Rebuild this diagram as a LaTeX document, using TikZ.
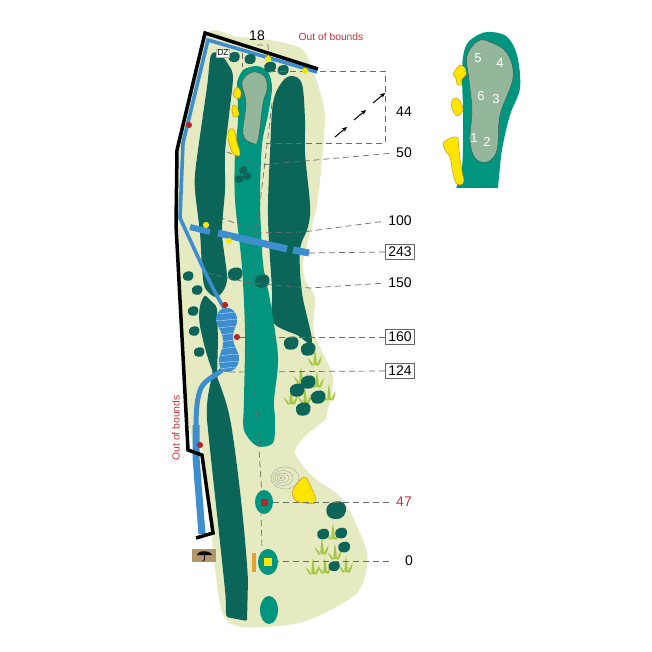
\documentclass[tikz,border=0pt]{standalone}
\usepackage{fontspec}
\setmainfont{Liberation Sans}
\usetikzlibrary{arrows.meta}
\definecolor{rough}{HTML}{E6EAC0}
\definecolor{darkg}{HTML}{0B6558}
\definecolor{teal1}{HTML}{00957F}
\definecolor{putt}{HTML}{94B79C}
\definecolor{water}{HTML}{3C8ECF}
\definecolor{sand}{HTML}{FFE600}
\definecolor{redd}{HTML}{B5252B}
\definecolor{lab}{HTML}{C8323A}
\definecolor{grassc}{HTML}{A6C646}
\definecolor{tan1}{HTML}{B3956A}
\definecolor{orng}{HTML}{E8A02C}
\tikzset{
 lead/.style={draw=black!58,dash pattern=on 6pt off 4pt,line width=.7pt},
 gap/.style={shorten <=5pt},
 num/.style={font=\fontsize{14}{14}\selectfont,inner sep=2pt},
 boxnum/.style={num,draw=black!60,line width=.7pt,fill=white,minimum width=29pt,minimum height=15pt,inner sep=1pt},
 redlab/.style={font=\fontsize{10.3}{11}\selectfont,text=lab},
 pin/.style={font=\fontsize{13}{13}\selectfont,text=white,inner sep=0},
 bnd/.style={draw=black,line width=3.5pt,line join=miter},
 bunk/.style={fill=sand,draw=black!30!orange!70!sand,line width=.4pt},
 arr/.style={-{Stealth[length=5pt,width=4.5pt]},line width=1pt,black},
}
\newcommand{\bushat}[3]{\fill[darkg,shift={(#1,#2)},scale=#3] plot[smooth cycle,tension=.7] coordinates {(-6.5,-2) (-1,-6) (5.5,-5) (7,1) (3,6) (-5,5)};}
\newcommand{\grassat}[2]{\begin{scope}[shift={(#1,#2)}]
\fill[grassc] (-1.6,7) .. controls (-1.6,1) and (-1,-4) .. (0,-9) .. controls (.5,-4) and (2,1) .. (1.8,7) -- cycle;
\fill[grassc] (-1.6,7) .. controls (-3,4) and (-5,2) .. (-7.5,0) .. controls (-6,3) and (-5,6) .. (-3,8) -- cycle;
\fill[grassc] (1.6,7) .. controls (3,4) and (4.5,1) .. (6.5,-2) .. controls (6.5,2) and (5,6) .. (3,8) -- cycle;
\end{scope}}
\newcommand{\dotat}[3]{\fill[#3] (#1,#2) circle (3.1pt);}
\newcommand{\pondpath}{plot[smooth cycle,tension=.85] coordinates {(227,308) (237,318) (233,338) (239,360) (228,372) (219,363) (223,340) (216,318)}}
\begin{document}
\begin{tikzpicture}[x=1pt,y=-1pt]
\useasboundingbox (0,0) rectangle (652,652);
\fill[white] (0,0) rectangle (652,652);
% rough
\fill[rough] plot[smooth cycle,tension=.45] coordinates {(205,36) (237,37) (270,40) (303,50) (318,85) (325,117) (321,170) (317,205) (310,233) (303,262) (305,280) (315,297) (314,333) (333,377) (327,413) (325,420) (305,436) (295,453) (313,477) (343,500) (367,553) (357,593) (303,622) (243,627) (222,612) (212,540) (204,455) (192,440) (186,400) (181,300) (178,200) (180,145)};
% dark fairways
\fill[darkg] plot[smooth cycle,tension=.5] coordinates {(211,55) (220,54) (228,64) (233,77) (229,115) (225,153) (225,190) (222,233) (227,280) (217,297) (205,288) (202,267) (200,233) (195,190) (196,165) (207,87)};
\fill[darkg] plot[smooth cycle,tension=.55] coordinates {(292,76) (302,84) (305,120) (305,153) (310,205) (308,227) (300,250) (302,293) (312,342) (297,335) (273,322) (272,290) (268,217) (270,153) (273,103) (282,82)};
\fill[darkg,rounded corners=2pt] (205,295) .. controls (198,305) and (198,320) .. (202,335) .. controls (205,350) and (210,365) .. (213,372) .. controls (210,385) and (206,400) .. (207,420) .. controls (212,470) and (220,540) .. (225,590) .. controls (226,600) and (226,610) .. (226,617) -- (247,621) -- (248,580) .. controls (245,530) and (238,470) .. (232,430) .. controls (228,405) and (222,390) .. (217,377) -- (218,340) -- (217,307) -- cycle;
% teal fairway
\fill[teal1] plot[smooth,tension=.5] coordinates {(237,82) (243,70) (257,66) (268,72) (272,88) (268,115) (262,145) (260,200) (263,263) (270,300) (278,357) (274,400) (275,420) (273,443) (257,446) (244,430) (244,400) (245,333) (242,267) (235,200) (235,153) (238,120) (237,82)} -- cycle;
\fill[putt,draw=black!70,line width=.4pt] plot[smooth cycle,tension=.6] coordinates {(253,72) (265,77) (267,90) (263,103) (258,140) (252,143) (243,134) (246,103) (242,82)};
% water
\draw[water,line width=3.6pt,line join=miter] (317,72) -- (208,40) -- (183,143) -- (180,218) .. controls (195,250) and (210,285) .. (224,308);
\draw[water,line width=5pt] (222,370) .. controls (212,378) and (205,380) .. (201,388) .. controls (197,397) and (196,410) .. (196,430);
\draw[water,line width=7pt] (196,425) -- (196,457) -- (202,534);
\fill[water] \pondpath;
\begin{scope}
\clip \pondpath;
\foreach \yy in {313,320,327,334,341,348,355,362,368}
 \draw[white!80!water,line width=.35pt] (215,\yy) .. controls (224,\yy+2) and (230,\yy-2) .. (240,\yy);
\end{scope}
% path strips
\draw[water,line width=6pt] (190,227) -- (210,232);
\draw[water,line width=7pt] (218,233) -- (287,249);
\draw[water,line width=7pt] (293,250) -- (309,253);
% boundary
\draw[bnd] (318,69) -- (205,33) -- (177,150) -- (176,225) -- (188,450) -- (202,455) -- (213,533) -- (196,538);
% bunkers
\fill[bunk] plot[smooth cycle] coordinates {(237,87) (241,92) (240,98) (236,98) (233,94)};
\fill[bunk] plot[smooth cycle] coordinates {(233,105) (237,107) (239,115) (234,117) (232,111)};
\fill[bunk] (229,130) .. controls (234,126) and (235,132) .. (236,137) .. controls (236,143) and (241,150) .. (240,155) .. controls (238,158) and (234,156) .. (232,152) .. controls (230,146) and (226,137) .. (229,130) -- cycle;
\fill[bunk] plot[smooth cycle,tension=.6] coordinates {(304,477) (311,487) (316,502) (305,503) (295,500) (293,490)};
% bushes
\bushat{234}{57}{.8}\bushat{250}{59}{.8}\bushat{270}{67}{.85}\bushat{283}{70}{.8}
\bushat{243}{170}{.6}\bushat{247}{176}{.6}\bushat{239}{179}{.6}
\bushat{235}{274}{1.05}\bushat{262}{281}{1.05}
\bushat{188}{276}{.75}\bushat{197}{290}{.75}\bushat{193}{311}{.75}\bushat{194}{331}{.75}\bushat{199}{352}{.75}
\bushat{291}{343}{1.05}\bushat{308}{349}{1.05}
\grassat{315}{358}\grassat{301}{376}\grassat{317}{380}\grassat{291}{397}\grassat{305}{396}\grassat{329}{393}
\bushat{308}{382}{1.05}\bushat{297}{390}{1.05}\bushat{318}{397}{1.05}\bushat{303}{409}{1.05}
\grassat{333}{532}\grassat{322}{547}\grassat{335}{552}
\grassat{313}{567}\grassat{325}{566}\grassat{346}{565}
\bushat{336}{510}{1.4}\bushat{323}{534}{.85}\bushat{341}{533}{.85}\bushat{344}{547}{.85}\bushat{334}{566}{.8}
% mound
\foreach \rx/\ry/\cx in {14/11/285,10/7.5/283,7/5/282,4/3/281,1.5/1/281}
 \draw[black!40,line width=.3pt] (\cx,478) ellipse ({\rx} and {\ry});
% tees
\fill[teal1] (264,502) ellipse (9 and 12);
\fill[redd] (260.5,498.5) rectangle (267.5,505.5);
\fill[teal1] (268,562) ellipse (10 and 13);
\fill[sand] (264,558) rectangle (272,566);
\fill[orng] (252,553) rectangle (256,572);
\fill[teal1] (269,610) ellipse (9 and 14);
% dashed leaders
\node[num] (n44) at (404,112) {44};
\node[num] (n50) at (404,153) {50};
\node[num] (n100) at (400,221) {100};
\node[boxnum] (n243) at (400,252) {243};
\node[num] (n150) at (400,283) {150};
\node[boxnum] (n160) at (400,337) {160};
\node[boxnum] (n124) at (400,371) {124};
\node[num,text=lab] (n47) at (404,502) {47};
\node[num] (n0) at (409,561) {0};
\node[font=\fontsize{14}{14}\selectfont,inner sep=0] (n18) at (257,36) {18};
\coordinate (a1) at (270,71);\coordinate (a2) at (385,71);\coordinate (a3) at (385,143);\coordinate (a4) at (256,143);
\draw[lead] (a1) -- (a2) -- (a3) -- (a4);
\draw[lead,gap] (n50.west) -- (260,165) -- (227,152);
\draw[lead,gap] (n100.west) -- (303,232) -- (260,233) -- (222,218);
\draw[lead] (n243.west) -- (307,253);
\draw[lead,gap] (n150.west) -- (310,288) -- (250,283) -- (203,272);
\draw[lead] (n160.west) -- (238,337);
\draw[lead] (n124.west) -- (225,372);
\draw[lead,gap] (n47.west) -- (270,502);
\draw[lead,shorten <=14pt] (n0.west) -- (275,561);
\draw[lead] (257,45) -- (268,45) -- (269,60);
\draw[lead] (242,53) -- (242,67);
\draw[lead] (272,103) -- (258,220) -- (253,240) -- (253,373) -- (257,420) -- (262,495);
\draw[lead] (261,510) -- (262,548);
% dots
\dotat{268}{59}{sand}\dotat{305}{71}{sand}\dotat{206}{225}{sand}\dotat{229}{241}{sand}
\dotat{189}{125}{redd}\dotat{225}{305}{redd}\dotat{237}{337}{redd}\dotat{200}{445}{redd}
% DZ
\node[draw=black!30,fill=white,line width=.3pt,font=\fontsize{8.5}{9}\selectfont,inner sep=.8pt] (dz) at (223,53) {DZ};
% arrows
\coordinate (b1) at (335,137);\coordinate (b2) at (347,127);\coordinate (b3) at (354,120);\coordinate (b4) at (366,110);\coordinate (b5) at (373,103);\coordinate (b6) at (385,93);
\draw[arr] (b1) -- (b2);\draw[arr] (b3) -- (b4);\draw[arr] (b5) -- (b6);
% labels
\node[redlab] (oob1) at (331,37) {Out of bounds};
\node[redlab,rotate=90] (oob2) at (176,428) {Out of bounds};
% umbrella
\fill[tan1] (192,549) rectangle (216,562);
\fill[black] (197,555) .. controls (198,550) and (210,550) .. (212,555) -- cycle;
\draw[black,line width=.8pt] (204.5,552) -- (204.5,560) -- (202.5,560.5);
% inset
\fill[teal1] plot[smooth,tension=.55] coordinates {(456,188) (461,175) (463,150) (463,110) (462,70) (465,48) (473,38) (487,32) (506,36) (517,55) (520,88) (510,115) (502,150) (498,188)} -- cycle;
\fill[putt,draw=black!70,line width=.4pt] plot[smooth cycle,tension=.6] coordinates {(478,41) (490,42) (507,53) (513,78) (500,115) (497,150) (487,162) (475,158) (470,140) (472,110) (469,80) (467,56)};
\fill[bunk] plot[smooth cycle] coordinates {(460,65) (465,68) (466,75) (462,79) (461,85) (457,84) (456,78) (453,74)};
\fill[bunk] plot[smooth cycle] coordinates {(455,98) (460,101) (463,110) (458,116) (454,113) (451,103)};
\fill[bunk] (443,143) .. controls (448,138) and (455,135) .. (458,138) .. controls (459,150) and (460,165) .. (464,180) .. controls (464,186) and (458,186) .. (456,183) .. controls (451,172) and (452,160) .. (449,155) .. controls (446,152) and (443,148) .. (443,143) -- cycle;
\node[pin] (g5) at (478,58) {5};
\node[pin] (g4) at (500,63) {4};
\node[pin] (g6) at (481,96) {6};
\node[pin] (g3) at (496,99) {3};
\node[pin] (g1) at (474,138) {1};
\node[pin] (g2) at (487,142) {2};
\end{tikzpicture}
\end{document}
